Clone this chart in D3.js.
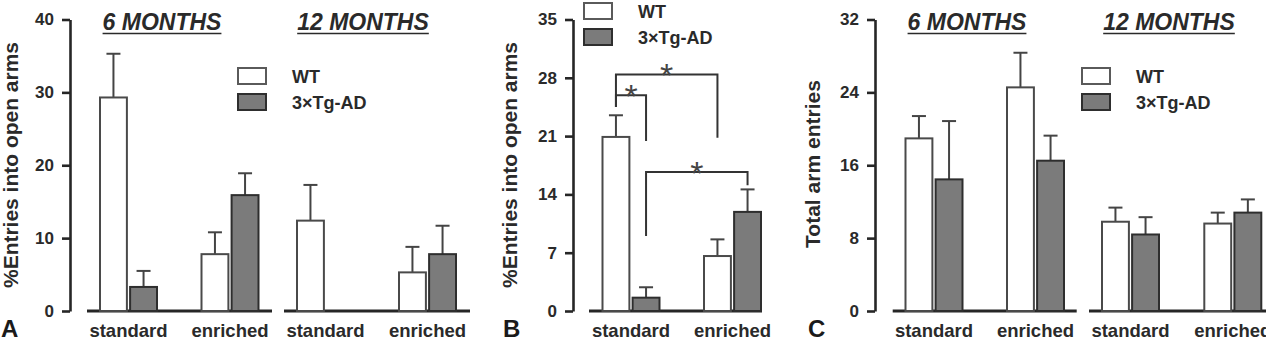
<!DOCTYPE html>
<html>
<head>
<meta charset="utf-8">
<script src="https://cdn.jsdelivr.net/npm/d3@7/dist/d3.min.js"></script>
<style>
  body { margin: 0; background: #fff; }
  svg { display: block; font-family: "Liberation Sans", Arial, sans-serif; }
  .tick text { font-size: 17px; font-weight: bold; fill: #2a2a2a; }
</style>
</head>
<body>
<svg id="fig" width="1266" height="342"></svg>
<script>
// categories
const groups = ['WT', '3×Tg-AD'];
const housing = ['standard', 'enriched'];
const ages = ['6 MONTHS', '12 MONTHS'];

// panel A: % entries into open arms (6m std, 6m enr, 12m std, 12m enr)
const openA_WT = [29.3, 7.8, 12.4, 5.3];
const openA_WT_err = [6.0, 3.0, 4.9, 3.5];
const openA_Tg = [3.3, 15.9, null, 7.8];
const openA_Tg_err = [2.2, 3.0, null, 3.9];
const ticksA = [0, 10, 20, 30, 40];

// panel B: % entries into open arms (std, enr)
const openB_WT = [20.9, 6.6];
const openB_WT_err = [2.6, 2.0];
const openB_Tg = [1.6, 11.9];
const openB_Tg_err = [1.25, 2.7];
const ticksB = [0, 7, 14, 21, 28, 35];
// significance brackets: [from bar, to bar, top, left end, right end]
const bracketsB = [
  [['standard', 'WT'], ['enriched', 'WT'], 28.4, 24.5, 20.8],
  [['standard', 'WT'], ['standard', '3×Tg-AD'], 25.9, 24.5, 20.4],
  [['standard', '3×Tg-AD'], ['enriched', '3×Tg-AD'], 16.7, 9.0, 15.1]
];

// panel C: total arm entries
const totalC_WT = [18.95, 24.55, 9.8, 9.6];
const totalC_WT_err = [2.45, 3.8, 1.55, 1.2];
const totalC_Tg = [14.45, 16.5, 8.4, 10.8];
const totalC_Tg_err = [6.4, 2.75, 1.9, 1.45];
const ticksC = [0, 8, 16, 24, 32];

const svg = d3.select('#fig');
const y0 = 311, yTop = 19.5;
const INK = '#262626';

function rows(wt, wtErr, tg, tgErr, nAges) {
  let out = [];
  for (let a = 0; a < nAges; a++) {
    housing.forEach((h, j) => {
      let i = a * 2 + j;
      out.push({age: a, house: h, group: groups[0], v: wt[i], e: wtErr[i]});
      out.push({age: a, house: h, group: groups[1], v: tg[i], e: tgErr[i]});
    });
  }
  return out.filter(d => d.v != null);
}

function panel(cfg) {
  let g = svg.append('g');
  let y = d3.scaleLinear().domain([0, d3.max(cfg.ticks)]).range([y0, yTop]);
  let sub = d3.scaleBand().domain(groups).range([-29.5, 29.5]).paddingInner(0.04);
  let xs = cfg.segs.map(s => d3.scalePoint().domain(housing).range(s.centers));

  // y axis
  let ax = g.append('g').attr('transform', `translate(${cfg.axisX},0)`)
    .call(d3.axisLeft(y).tickValues(cfg.ticks).tickSize(8).tickSizeOuter(0).tickPadding(8));
  ax.select('.domain').attr('stroke', INK).attr('stroke-width', 2.6);
  ax.selectAll('.tick line').attr('stroke', INK).attr('stroke-width', 2.6);

  // y title
  g.append('text')
    .attr('transform', `translate(${cfg.titleX},${cfg.titleY}) rotate(-90)`)
    .attr('text-anchor', 'middle').attr('dy', '0.35em')
    .attr('textLength', cfg.titleLen).attr('lengthAdjust', 'spacingAndGlyphs')
    .style('font-size', '20px').style('font-weight', 'bold').attr('fill', '#2a2a2a')
    .text(cfg.yTitle);

  // baselines and x labels
  cfg.segs.forEach((s, a) => {
    g.append('line').attr('x1', s.base[0]).attr('x2', s.base[1])
      .attr('y1', y(0)).attr('y2', y(0)).attr('stroke', INK).attr('stroke-width', 3);
    g.selectAll(null).data(housing).enter().append('text')
      .attr('x', d => xs[a](d)).attr('y', 337).attr('text-anchor', 'middle')
      .style('font-size', '18.5px').style('font-weight', 'bold').attr('fill', '#2a2a2a')
      .text(d => d);
    if (s.header) {
      let t = g.append('text').attr('x', s.header).attr('y', 30).attr('text-anchor', 'middle')
        .style('font-size', '23px').style('font-weight', 'bold').style('font-style', 'italic')
        .attr('fill', '#2a2a2a').text(ages[a]);
      let w = t.node().getComputedTextLength();
      g.append('line').attr('x1', s.header - w / 2).attr('x2', s.header + w / 2)
        .attr('y1', 33.5).attr('y2', 33.5).attr('stroke', '#2a2a2a').attr('stroke-width', 1.6);
    }
  });

  let cx = d => xs[d.age](d.house) + sub(d.group) + sub.bandwidth() / 2;

  // error bars
  let eb = g.selectAll('.err').data(cfg.data).enter().append('g');
  eb.append('line').attr('x1', cx).attr('x2', cx)
    .attr('y1', d => y(d.v)).attr('y2', d => y(d.v + d.e))
    .attr('stroke', '#444').attr('stroke-width', 2);
  eb.append('line').attr('x1', d => cx(d) - 7).attr('x2', d => cx(d) + 7)
    .attr('y1', d => y(d.v + d.e)).attr('y2', d => y(d.v + d.e))
    .attr('stroke', '#444').attr('stroke-width', 2);

  // bars
  g.selectAll('.bar').data(cfg.data).enter().append('rect')
    .attr('x', d => xs[d.age](d.house) + sub(d.group) + 1)
    .attr('width', sub.bandwidth() - 2)
    .attr('y', d => y(d.v))
    .attr('height', d => y(0) - y(d.v))
    .attr('fill', d => d.group === groups[0] ? '#fff' : '#7b7b7b')
    .attr('stroke', d => d.group === groups[0] ? '#4a4a4a' : '#2e2e2e')
    .attr('stroke-width', 2);

  // legend
  let lg = g.append('g');
  groups.forEach((k, i) => {
    lg.append('rect').attr('x', cfg.legend[0]).attr('y', cfg.legend[1] + i * 26)
      .attr('width', 28).attr('height', 16)
      .attr('fill', i === 0 ? '#fff' : '#7b7b7b')
      .attr('stroke', i === 0 ? '#5a5a5a' : '#2e2e2e').attr('stroke-width', 2);
    lg.append('text').attr('x', cfg.legend[0] + 54).attr('y', cfg.legend[1] + i * 26 + 15)
      .style('font-size', '18px').style('font-weight', 'bold').attr('fill', '#2a2a2a')
      .text(k);
  });

  // panel letter
  g.append('text').attr('x', cfg.letterX).attr('y', 337)
    .style('font-size', '24px').style('font-weight', 'bold').attr('fill', '#1a1a1a')
    .text(cfg.letter);

  return {y: y, xs: xs, sub: sub, g: g};
}

panel({
  letter: 'A', letterX: 1, axisX: 70, ticks: ticksA,
  yTitle: '%Entries into open arms', titleX: 11, titleY: 165, titleLen: 246,
  segs: [{centers: [128.5, 230], base: [87, 272], header: 162},
         {centers: [325.5, 427.5], base: [284, 470], header: 363}],
  legend: [238, 68],
  data: rows(openA_WT, openA_WT_err, openA_Tg, openA_Tg_err, 2)
});

let pB = panel({
  letter: 'B', letterX: 503, axisX: 573, ticks: ticksB,
  yTitle: '%Entries into open arms', titleX: 510, titleY: 165, titleLen: 246,
  segs: [{centers: [631, 732.5], base: [589, 762]}],
  legend: [584, 3],
  data: rows(openB_WT, openB_WT_err, openB_Tg, openB_Tg_err, 1)
});

panel({
  letter: 'C', letterX: 808, axisX: 875, ticks: ticksC,
  yTitle: 'Total arm entries', titleX: 813, titleY: 164, titleLen: 168,
  segs: [{centers: [934, 1035.5], base: [892.7, 1076.7], header: 967},
         {centers: [1130.5, 1232.8], base: [1089, 1270], header: 1169}],
  legend: [1082, 68],
  data: rows(totalC_WT, totalC_WT_err, totalC_Tg, totalC_Tg_err, 2)
});

// significance brackets in panel B
let bx = b => pB.xs[0](b[0]) + pB.sub(b[1]) + pB.sub.bandwidth() / 2;
bracketsB.forEach(b => {
  let x1 = bx(b[0]), x2 = bx(b[1]);
  let p = d3.path();
  p.moveTo(x1, pB.y(b[3]));
  p.lineTo(x1, pB.y(b[2]));
  p.lineTo(x2, pB.y(b[2]));
  p.lineTo(x2, pB.y(b[4]));
  pB.g.append('path').attr('d', p.toString()).attr('fill', 'none')
    .attr('stroke', '#333').attr('stroke-width', 2);
  pB.g.append('text').attr('x', (x1 + x2) / 2).attr('y', pB.y(b[2]) + 13)
    .attr('text-anchor', 'middle').style('font-size', '34px').attr('fill', '#444')
    .text('*');
});
</script>
</body>
</html>
